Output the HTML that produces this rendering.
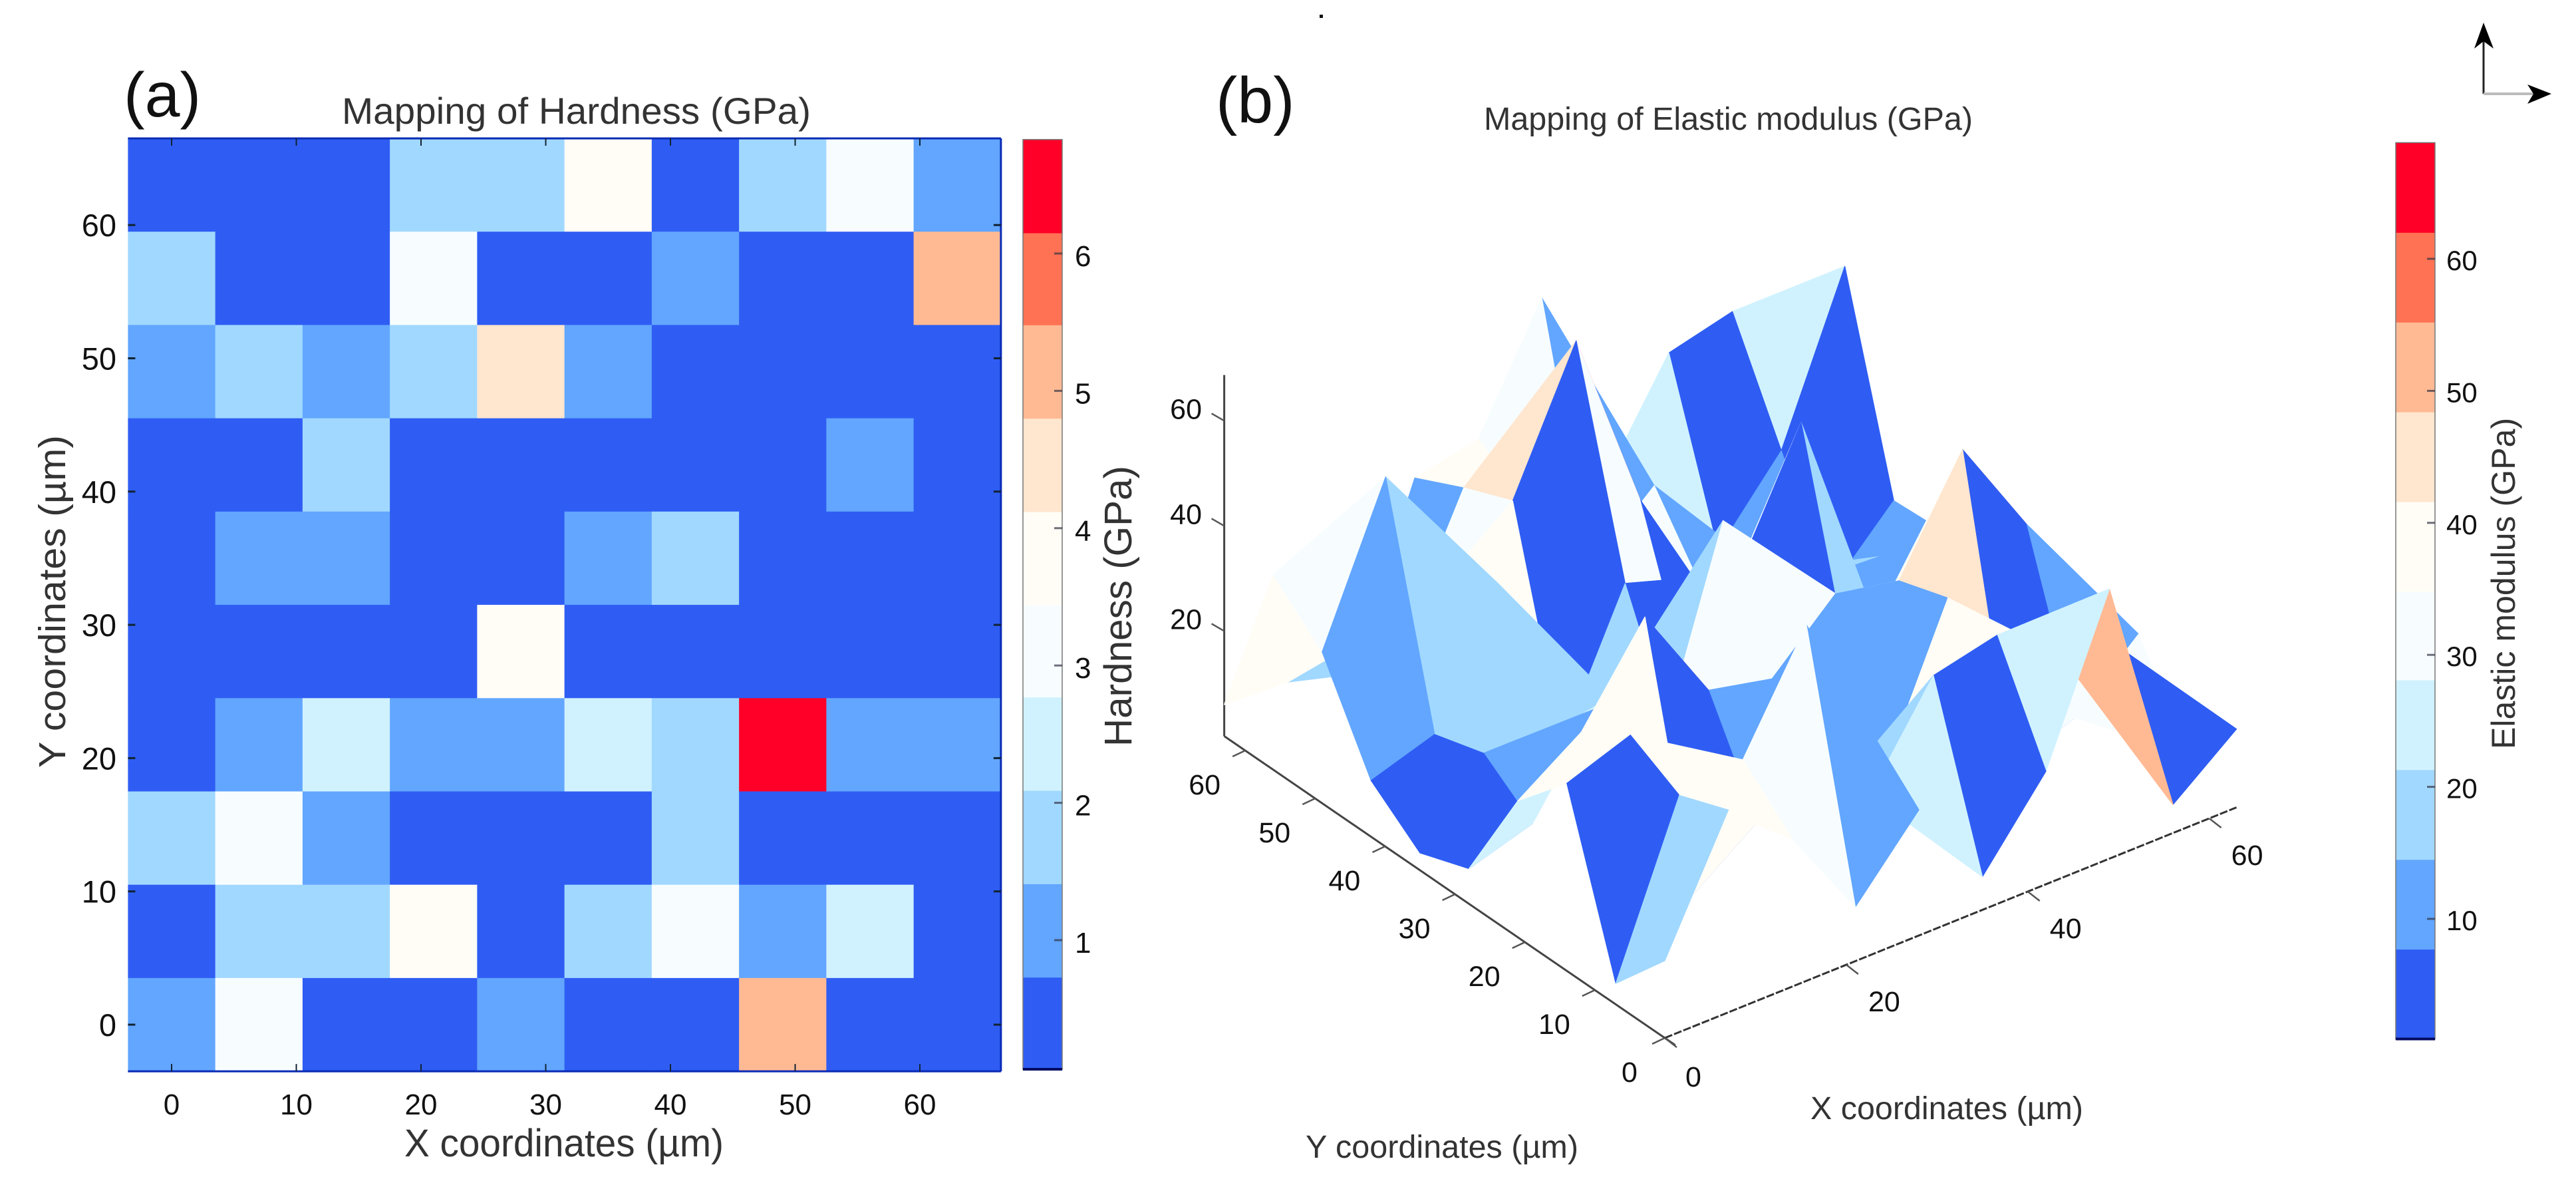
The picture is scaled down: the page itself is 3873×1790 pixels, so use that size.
<!DOCTYPE html>
<html lang="en">
<head>
<meta charset="utf-8">
<title>Mapping of Hardness and Elastic modulus</title>
<style>
html,body{margin:0;padding:0;background:#fff;}
svg{display:block;}
text{font-family:"Liberation Sans",Arial,sans-serif;}
</style>
</head>
<body>
<svg id="fig" xmlns="http://www.w3.org/2000/svg" width="3873" height="1790" viewBox="0 0 3873 1790">
  <rect x="0" y="0" width="3873" height="1790" fill="#fff"/>
  <rect x="1984" y="22" width="5" height="5" fill="#111"/>

  <text x="186" y="175" font-size="95" fill="#111">(a)</text>
  <text x="1828" y="184" font-size="97" fill="#111">(b)</text>
  <text x="514" y="186" font-size="56" fill="#333" textLength="705" lengthAdjust="spacingAndGlyphs">Mapping of Hardness (GPa)</text>
  <text x="2231" y="195" font-size="48" fill="#333" textLength="735" lengthAdjust="spacingAndGlyphs">Mapping of Elastic modulus (GPa)</text>

  <g id="heatmap"></g>
  <g id="heatmap-axes"></g>
  <text x="608" y="1738" font-size="58" fill="#333" textLength="480" lengthAdjust="spacingAndGlyphs">X coordinates (µm)</text>
  <text transform="translate(98,1154) rotate(-90)" font-size="57" fill="#333" textLength="500" lengthAdjust="spacingAndGlyphs">Y coordinates (µm)</text>

  <g id="cbar-a"></g>
  <text transform="translate(1701,1122) rotate(-90)" font-size="58" fill="#333" textLength="422" lengthAdjust="spacingAndGlyphs">Hardness (GPa)</text>

  <g id="axes3d"></g>
  <g id="surface"></g>
  <text x="2722" y="1682" font-size="48" fill="#333" textLength="410" lengthAdjust="spacingAndGlyphs">X coordinates (µm)</text>
  <text x="1963" y="1740" font-size="48" fill="#333" textLength="410" lengthAdjust="spacingAndGlyphs">Y coordinates (µm)</text>

  <g id="cbar-b"></g>
  <text transform="translate(3781,1126) rotate(-90)" font-size="50" fill="#333" textLength="498" lengthAdjust="spacingAndGlyphs">Elastic modulus (GPa)</text>

  <g>
    <line x1="3734" y1="141" x2="3734" y2="62" stroke="#222" stroke-width="3"/>
    <polygon points="3734,34 3720,73 3734,62 3749,73" fill="#000"/>
    <line x1="3734" y1="141" x2="3809" y2="141" stroke="#bbb" stroke-width="4"/>
    <polygon points="3836,141 3800,127 3809,141 3800,156" fill="#000"/>
  </g>
</svg>

<script>
// Shared discrete colormap (10 levels, blue to red)
const levelColors = ['#2f5df3','#62a6ff','#a1d8ff','#d0f2ff','#f7fdff','#fffdf6','#ffe6cf','#ffba94','#ff7254','#ff0028'];

// Panel (a): hardness heatmap data, rows from top (Y=63) to bottom (Y=0)
const gridX = [0,7,14,21,28,35,42,49,56,63];
const gridYTopDown = [63,56,49,42,35,28,21,14,7,0];
const hardness = [
  [0.4,0.3,0.4,1.7,1.8,3.8,0.4,1.7,3.1,1.1],
  [1.8,0.4,0.3,3.1,0.4,0.4,1.1,0.3,0.4,5.1],
  [1.1,1.8,1.1,1.7,4.5,1.1,0.4,0.4,0.3,0.4],
  [0.4,0.3,1.7,0.4,0.3,0.4,0.4,0.3,1.1,0.4],
  [0.4,1.1,1.1,0.4,0.4,1.1,1.8,0.4,0.3,0.4],
  [0.3,0.4,0.4,0.3,3.8,0.4,0.3,0.4,0.4,0.3],
  [0.4,1.1,2.4,1.1,1.1,2.4,1.8,6.5,1.1,1.1],
  [1.8,3.1,1.1,0.4,0.3,0.4,1.7,0.4,0.3,0.4],
  [0.4,1.7,1.8,3.8,0.4,1.7,3.1,1.1,2.4,0.4],
  [1.1,3.1,0.4,0.3,1.1,0.4,0.3,5.1,0.4,0.3]
];
const xTicksA = [0,10,20,30,40,50,60];
const yTicksA = [0,10,20,30,40,50,60];
const hardnessEdges = [0.06,0.73,1.41,2.09,2.77,3.44,4.12,4.80,5.48,6.15,6.83];
const hardnessTicks = [1,2,3,4,5,6];

// Panel (b): elastic modulus surface Z values, rows are Y = 0..63, columns X = 0..63
const surfaceX = [0,7,14,21,28,35,42,49,56,63];
const surfaceY = [0,7,14,21,28,35,42,49,56,63];
const modulusRow0 = [14.7,38.5,28.2,10.3,23.9,6.3,21.5,51.3,5.4,14.9];
const modulusRow1 = [4.0,34.9,36.8,57.6,20.3,38.2,41.0,32.4,28.3,3.9];
const modulusRow2 = [35.7,40.0,5.0,13.8,11.5,14.0,41.7,5.0,9.2,20.2];
const modulusRow3 = [26.0,34.2,51.2,32.4,29.7,41.0,38.6,58.7,39.7,22.7];
const modulusRow4 = [6.7,10.4,27.4,15.0,53.4,4.0,15.0,0.5,5.0,5.0];
const modulusRow5 = [3.3,17.4,16.0,18.3,5.0,32.0,56.0,14.0,14.0,10.0];
const modulusRow6 = [10.7,14.6,38.4,3.0,28.7,4.5,3.0,15.0,14.3,14.3];
const modulusRow7 = [28.8,57.2,33.5,42.9,68.5,33.5,11.0,10.0,1.5,13.7];
const modulusRow8 = [37.1,17.2,14.0,39.0,31.0,14.0,24.8,7.5,21.7,51.9];
const modulusRow9 = [6.0,5.4,2.0,34.5,37.0,59.0,19.6,38.8,41.8,30.0];
const modulus = [modulusRow0,modulusRow1,modulusRow2,modulusRow3,modulusRow4,modulusRow5,modulusRow6,modulusRow7,modulusRow8,modulusRow9];
const xTicksB = [0,20,40,60];
const yTicksB = [0,10,20,30,40,50,60];
const zTicksB = [20,40,60];
const modulusEdges = [0.9,7.7,14.5,21.3,28.1,34.8,41.6,48.4,55.2,62,68.8];
const modulusTicks = [10,20,30,40,50,60];

const NS = 'http://www.w3.org/2000/svg';
function mk(tag, parent, attrs){
  const el = document.createElementNS(NS, tag);
  for (const k in attrs) el.setAttribute(k, attrs[k]);
  parent.appendChild(el);
  return el;
}
function levelOf(v, edges){
  let k = 0;
  while (k < edges.length - 2 && v >= edges[k + 1]) k++;
  return k;
}

// ---- Axis functions ----
const xA = v => 258 + v * 18.75;
const yA = v => 1540 - v * 20.03;
const cbA = v => 1413 - (v - 1) * 206.4;
const cbB = v => 1381 - (v - 10) * 19.84;
const projX = (x, y) => 2503 + 13.643 * x - 10.514 * y;
const projY = (x, y, z) => 1560 - 5.5 * x - 7.2 * y - 7.9 * z;

// ---- Heatmap ----
const heat = document.getElementById('heatmap');
const halfCell = 3.5;
hardness.forEach((row, r) => {
  row.forEach((val, c) => {
    const x0 = xA(gridX[c] - halfCell), x1 = xA(gridX[c] + halfCell);
    const y0 = yA(gridYTopDown[r] + halfCell), y1 = yA(gridYTopDown[r] - halfCell);
    const cell = mk('rect', heat, {x:x0, y:y0, width:x1 - x0 + 0.5, height:y1 - y0 + 0.5, fill:levelColors[levelOf(val, hardnessEdges)]});
    
    
  });
});

const axA = document.getElementById('heatmap-axes');
const frameLeft = xA(-halfCell), frameRight = xA(63 + halfCell);
const frameTop = yA(63 + halfCell), frameBottom = yA(-halfCell);
[[frameLeft,frameBottom,frameRight,frameBottom],[frameRight,frameTop,frameRight,frameBottom],[frameLeft,frameTop,frameRight,frameTop]].forEach(p => {
  const ln = mk('line', axA, {x1:p[0], y1:p[1], x2:p[2], y2:p[3], stroke:'#0a2bb5', 'stroke-width':3});
  
  
});
xTicksA.forEach(t => {
  const xp = xA(t);
  const tb = mk('line', axA, {x1:xp, y1:frameBottom, x2:xp, y2:frameBottom - 11, stroke:'#123', 'stroke-width':2});
  
  
  const tt = mk('line', axA, {x1:xp, y1:frameTop, x2:xp, y2:frameTop + 11, stroke:'#123', 'stroke-width':2});
  
  
  const lb = mk('text', axA, {x:xp, y:1675, 'font-size':44, 'text-anchor':'middle', fill:'#111'});
  
  
  lb.textContent = t;
});
yTicksA.forEach(t => {
  const yp = yA(t);
  const tl = mk('line', axA, {x1:frameLeft, y1:yp, x2:frameLeft + 11, y2:yp, stroke:'#123', 'stroke-width':3});
  
  
  const tr = mk('line', axA, {x1:frameRight, y1:yp, x2:frameRight - 11, y2:yp, stroke:'#123', 'stroke-width':3});
  
  
  const lb = mk('text', axA, {x:175, y:yp + 17, 'font-size':47, 'text-anchor':'end', fill:'#111'});
  
  
  lb.textContent = t;
});

// ---- Colorbars ----
function colorbar(groupId, edges, ticks, scale, xLeft, xRight, labelX, fontSize, labelDy){
  const g = document.getElementById(groupId);
  for (let k = 0; k < edges.length - 1; k++){
    const yTop = scale(edges[k + 1]), yBot = scale(edges[k]);
    const seg = mk('rect', g, {x:xLeft, y:yTop, width:xRight - xLeft, height:yBot - yTop + 0.5, fill:levelColors[k]});
    
    
  }
  const yMin = scale(edges[0]), yMax = scale(edges[edges.length - 1]);
  const fr = mk('rect', g, {x:xLeft, y:yMax, width:xRight - xLeft, height:yMin - yMax, fill:'none', stroke:'#777', 'stroke-width':1.5});
  
  
  const bt = mk('line', g, {x1:xLeft, y1:yMin, x2:xRight, y2:yMin, stroke:'#000a60', 'stroke-width':4});
  
  
  ticks.forEach(t => {
    const yp = scale(t);
    const tk = mk('line', g, {x1:xRight - 12, y1:yp, x2:xRight, y2:yp, stroke:'#334', 'stroke-width':3, opacity:0.7});
    
    
    const lb = mk('text', g, {x:labelX, y:yp + labelDy, 'font-size':fontSize, fill:'#111'});
    
    
    lb.textContent = t;
  });
}
colorbar('cbar-a', hardnessEdges, hardnessTicks, cbA, 1538, 1597, 1616, 44, 19);
colorbar('cbar-b', modulusEdges, modulusTicks, cbB, 3602, 3661, 3678, 42, 17);

// ---- 3D axes ----
const ax3 = document.getElementById('axes3d');
const xMaxB = surfaceX[surfaceX.length - 1], yMaxB = surfaceY[surfaceY.length - 1];
const zAxis = mk('line', ax3, {x1:projX(0, yMaxB), y1:projY(0, yMaxB, 0), x2:projX(0, yMaxB), y2:projY(0, yMaxB, 68.7), stroke:'#444', 'stroke-width':3});


const yAxis = mk('line', ax3, {x1:projX(0, yMaxB), y1:projY(0, yMaxB, 0), x2:projX(0, -1.5), y2:projY(0, -1.5, 0), stroke:'#444', 'stroke-width':3});


const xAxis = mk('line', ax3, {x1:projX(0, 0), y1:projY(0, 0, 0), x2:projX(xMaxB, 0), y2:projY(xMaxB, 0, 0), stroke:'#333', 'stroke-width':3, 'stroke-dasharray':'12 3'});



xTicksB.forEach(t => {
  const xp = projX(t, 0), yp = projY(t, 0, 0);
  const tk = mk('line', ax3, {x1:xp, y1:yp, x2:xp + 18, y2:yp + 14, stroke:'#555', 'stroke-width':2.5});
  
  
  const lb = mk('text', ax3, {x:xp + (t === 0 ? 43 : 57), y:yp + (t === 0 ? 73 : 70), 'font-size':43, 'text-anchor':'middle', fill:'#111'});
  
  
  lb.textContent = t;
});
yTicksB.forEach(t => {
  const xp = projX(0, t), yp = projY(0, t, 0);
  const tk = mk('line', ax3, {x1:xp, y1:yp, x2:xp - 19, y2:yp + 9, stroke:'#555', 'stroke-width':2.5});
  
  
  const lb = mk('text', ax3, {x:xp + (t === 0 ? -53 : -61), y:yp + 66, 'font-size':43, 'text-anchor':'middle', fill:'#111'});
  
  
  lb.textContent = t;
});
zTicksB.forEach(t => {
  const xp = projX(0, yMaxB), yp = projY(0, yMaxB, t);
  const tk = mk('line', ax3, {x1:xp, y1:yp, x2:xp - 19, y2:yp - 11, stroke:'#555', 'stroke-width':2.5});
  
  
  const lb = mk('text', ax3, {x:1807, y:yp - 3, 'font-size':43, 'text-anchor':'end', fill:'#111'});
  
  
  lb.textContent = t;
});

// ---- Surface (flat shaded, colour taken from each face's first vertex) ----
const surf = document.getElementById('surface');
function vertex(i, j){
  const x = surfaceX[i], y = surfaceY[j], z = modulus[j][i];
  return projX(x, y).toFixed(1) + ',' + projY(x, y, z).toFixed(1);
}
for (let j = surfaceY.length - 2; j >= 0; j--){
  for (let i = surfaceX.length - 2; i >= 0; i--){
    const color = levelColors[levelOf(modulus[j][i], modulusEdges)];
    const triA = mk('polygon', surf, {points:[vertex(i,j), vertex(i+1,j), vertex(i,j+1)].join(' '), fill:color, stroke:color, 'stroke-width':1.2, 'stroke-linejoin':'round'});
    
    
    const triB = mk('polygon', surf, {points:[vertex(i+1,j), vertex(i+1,j+1), vertex(i,j+1)].join(' '), fill:color, stroke:color, 'stroke-width':1.2, 'stroke-linejoin':'round'});
    
    
  }
}
</script>
</body>
</html>
